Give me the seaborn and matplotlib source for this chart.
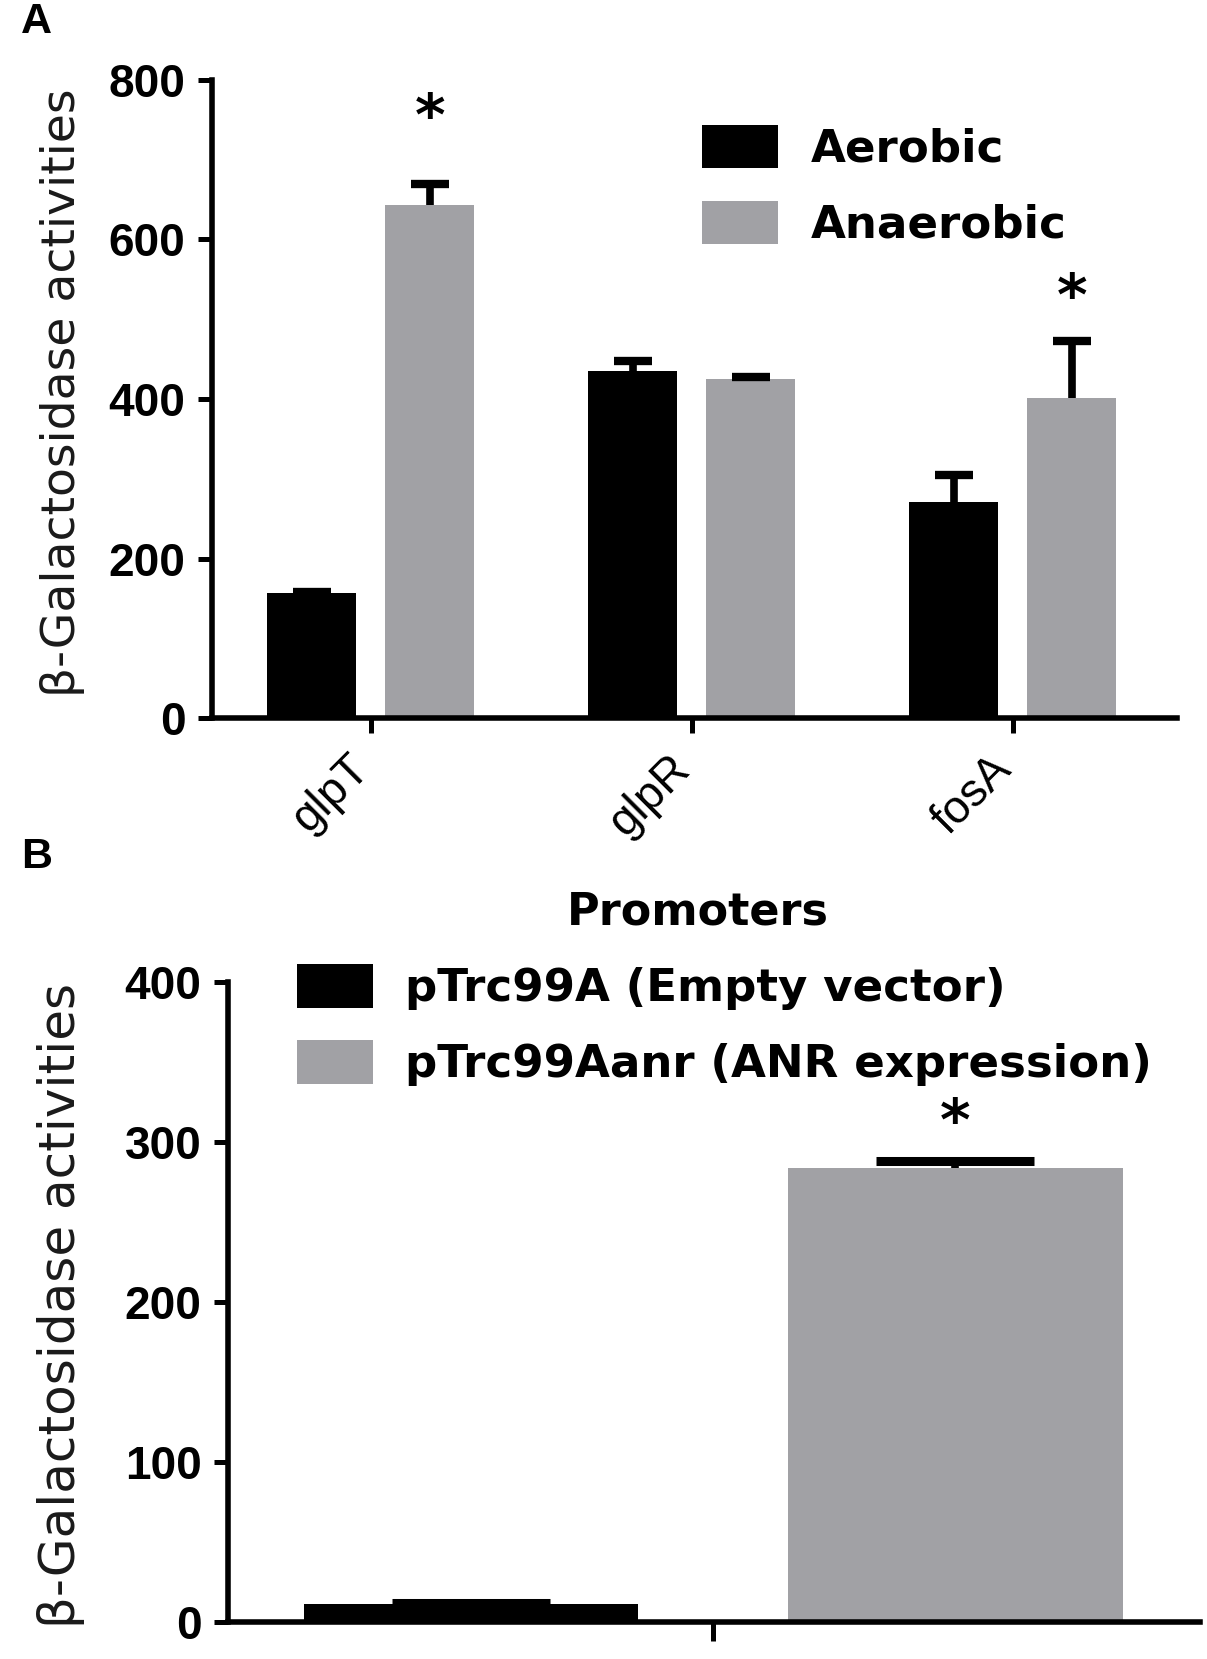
import numpy as np
import pandas as pd
import matplotlib
matplotlib.use("Agg")
import matplotlib.pyplot as plt
from matplotlib.patches import Patch
import seaborn as sns

# ---------------- data ----------------
promoters = ["glpT", "glpR", "fosA"]
conditions = ["Aerobic", "Anaerobic"]
aerobic_mean = [157, 435, 271]
aerobic_err = [1, 13, 34]
anaerobic_mean = [643, 425, 401]
anaerobic_err = [27, 2, 72]
star_a_promoters = ["glpT", "fosA"]
star_a_y = [771, 545]
yticks_a = [0, 200, 400, 600, 800]

b_group = [""]
plasmids = ["pTrc99A (Empty vector)", "pTrc99Aanr (ANR expression)"]
b_mean = [11, 284]
b_err = [1, 4]
b_star_y = 321
yticks_b = [0, 100, 200, 300, 400]

BLACK = "#000000"
GRAY = "#A1A1A5"
YLABEL = "β-Galactosidase activities"

sns.set_style("ticks")
plt.rcParams["font.family"] = ["DejaVu Sans"]
plt.rcParams.update({
    "axes.linewidth": 4,
    "axes.edgecolor": "black",
    "xtick.color": "black",
    "ytick.color": "black",
    "text.color": "black",
    "axes.labelcolor": "black",
})

fig = plt.figure(figsize=(12.07, 16.59), dpi=100)
axA = fig.add_axes([0.1756, 0.5672, 0.7995, 0.3846])
axB = fig.add_axes([0.1889, 0.0223, 0.8053, 0.3858])

LEG_PROP = {"family": "DejaVu Sans", "weight": "bold", "size": 32.5}
LEG_KW = dict(loc="upper left", frameon=False, prop=LEG_PROP,
              handlelength=1.69, handleheight=1.11, handletextpad=0.71,
              labelspacing=0.66, borderpad=0, borderaxespad=0)


def upper_errorbars(ax, xs, means, errs, capsize, lw, capthick):
    _, caps, _ = ax.errorbar(xs, means, yerr=[np.zeros(len(errs)), errs],
                             fmt="none", ecolor="black", elinewidth=lw,
                             capsize=capsize, capthick=capthick, zorder=4)
    for c in caps:
        if np.allclose(np.asarray(c.get_ydata(), float), np.asarray(means, float)):
            c.remove()


def add_star(ax, x, y, fs=42):
    ax.annotate("*", xy=(x, y), xytext=(0, -0.55 * fs), textcoords="offset points",
                ha="center", va="baseline", fontsize=fs, fontweight="bold",
                fontfamily="DejaVu Sans", annotation_clip=False)


# ---------------- panel A ----------------
dfA = pd.DataFrame({
    "Promoter": promoters * 2,
    "Condition": [conditions[0]] * 3 + [conditions[1]] * 3,
    "Activity": aerobic_mean + anaerobic_mean,
})
sns.barplot(data=dfA, x="Promoter", y="Activity", hue="Condition",
            order=promoters, hue_order=conditions, palette=[BLACK, GRAY],
            saturation=1, width=0.736, gap=0.247, errorbar=None,
            linewidth=0, legend=False, ax=axA)

for cont, means, errs in zip(axA.containers, [aerobic_mean, anaerobic_mean],
                             [aerobic_err, anaerobic_err]):
    xs = [b.get_x() + b.get_width() / 2 for b in cont]
    upper_errorbars(axA, xs, means, errs, capsize=13.7, lw=5.5, capthick=6)

for p, sy in zip(star_a_promoters, star_a_y):
    bar = axA.containers[1][promoters.index(p)]
    add_star(axA, bar.get_x() + bar.get_width() / 2, sy)

axA.set_xlim(-0.495, 2.511)
axA.set_ylim(0, 800)
axA.set_yticks(yticks_a, labels=[str(t) for t in yticks_a],
               fontfamily="Liberation Sans", fontweight="bold", fontsize=33)
axA.set_xticks(range(len(promoters)), labels=promoters, rotation=45, ha="right",
               va="baseline", rotation_mode="anchor", fontfamily="Liberation Sans",
               fontsize=33)
axA.tick_params(axis="y", width=3.6, length=10, pad=9)
axA.tick_params(axis="x", width=3.6, length=11, pad=27)
axA.set_xlabel("Promoters", fontsize=32, fontweight="bold")
axA.xaxis.set_label_coords(0.504, -0.27)
axA.set_ylabel(YLABEL, fontsize=34, color="#1a1a1a")
axA.yaxis.set_label_coords(-0.132, 0.51)
axA.legend(handles=[Patch(facecolor=BLACK, edgecolor="none"),
                    Patch(facecolor=GRAY, edgecolor="none")],
           labels=conditions, bbox_to_anchor=(0.508, 0.93), **LEG_KW)
sns.despine(ax=axA)

# ---------------- panel B ----------------
dfB = pd.DataFrame({
    "Group": b_group * 2,
    "Plasmid": plasmids,
    "Activity": b_mean,
})
sns.barplot(data=dfB, x="Group", y="Activity", hue="Plasmid",
            hue_order=plasmids, palette=[BLACK, GRAY], saturation=1,
            width=0.8, gap=0.31, errorbar=None, linewidth=0, legend=False, ax=axB)

bx = []
for cont in axB.containers:
    bx += [b.get_x() + b.get_width() / 2 for b in cont]
upper_errorbars(axB, bx, b_mean, b_err, capsize=57, lw=5.5, capthick=6.5)
add_star(axB, bx[1], b_star_y)

axB.set_xlim(-0.401, 0.402)
axB.set_ylim(0, 400)
axB.set_yticks(yticks_b, labels=[str(t) for t in yticks_b],
               fontfamily="Liberation Sans", fontweight="bold", fontsize=33)
axB.set_xticks([0], labels=b_group)
axB.tick_params(axis="y", width=3.6, length=10, pad=9)
axB.tick_params(axis="x", width=3.6, length=14)
axB.set_xlabel("")
axB.set_ylabel(YLABEL, fontsize=36, color="#1a1a1a")
axB.yaxis.set_label_coords(-0.147, 0.495)
axB.legend(handles=[Patch(facecolor=BLACK, edgecolor="none"),
                    Patch(facecolor=GRAY, edgecolor="none")],
           labels=plasmids, bbox_to_anchor=(0.071, 1.028), **LEG_KW)
sns.despine(ax=axB)

fig.text(21 / 1207, 0.9985, "A", fontsize=31, fontweight="bold",
         fontfamily="Liberation Sans", ha="left", va="top")
fig.text(21 / 1207, 0.4955, "B", fontsize=31, fontweight="bold",
         fontfamily="Liberation Sans", ha="left", va="top")

fig.savefig("out.png", dpi=100)
